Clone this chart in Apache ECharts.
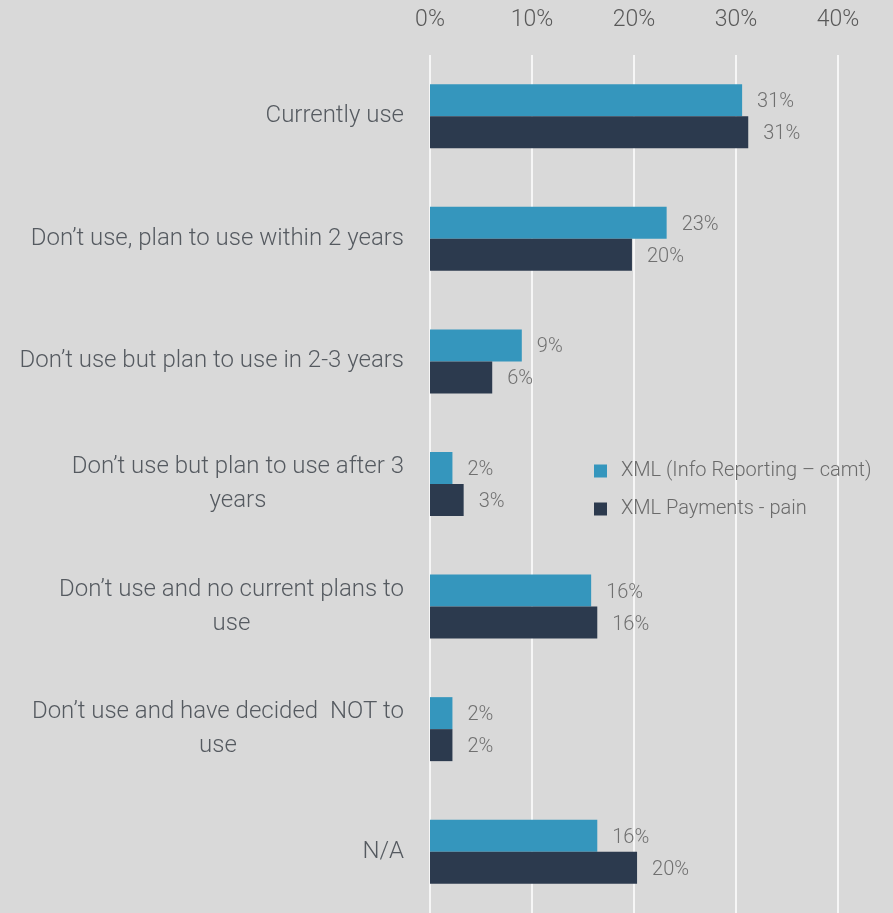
<!DOCTYPE html>
<html>
<head>
<meta charset="utf-8">
<script src="https://cdn.jsdelivr.net/npm/echarts@6/dist/echarts.min.js"></script>
<style>
  html, body { margin: 0; padding: 0; background: #d9d9d9; }
  #chart { width: 893px; height: 913px; }
</style>
</head>
<body>
<div id="chart"></div>
<script>
// Adoption status categories (top to bottom)
const categories = [
  'Currently use',
  'Don\u2019t use, plan to use within 2 years',
  'Don\u2019t use but plan to use in 2-3 years',
  'Don\u2019t use but plan to use after 3\nyears',
  'Don\u2019t use and no current plans to\nuse',
  'Don\u2019t use and have decided  NOT to\nuse',
  'N/A'
];
// Share of respondents, percent
const camtValues = [30.6, 23.2, 9.0, 2.2, 15.8, 2.2, 16.4];
const painValues = [31.2, 19.8, 6.1, 3.3, 16.4, 2.2, 20.3];
const seriesNames = ['XML (Info Reporting \u2013 camt)', 'XML Payments - pain'];
const axisTicks = [0, 10, 20, 30, 40];

const font = 'Roboto';
const chart = echarts.init(document.getElementById('chart'));

const valueLabel = {
  show: true,
  position: 'right',
  distance: 15,
  offset: [0, 2],
  color: '#707070',
  fontFamily: font,
  fontWeight: 300,
  fontSize: 20,
  formatter: p => Math.round(p.value) + '%'
};

chart.setOption({
  backgroundColor: '#d9d9d9',
  animation: false,
  legend: {
    orient: 'vertical',
    left: 589,
    top: 456,
    itemWidth: 13,
    itemHeight: 13,
    itemGap: 18,
    icon: 'rect',
    textStyle: { fontFamily: font, fontWeight: 300, fontSize: 20, color: '#6a6a6a', padding: [0, 0, 0, 9] },
    data: seriesNames
  },
  grid: { left: 430, top: 55, width: 408, height: 868, containLabel: false },
  xAxis: {
    type: 'value',
    position: 'top',
    min: axisTicks[0],
    max: axisTicks[axisTicks.length - 1],
    interval: 10,
    axisLine: { show: false },
    axisTick: { show: false },
    splitLine: { show: true, lineStyle: { color: '#ffffff', width: 1.5 } },
    axisLabel: {
      margin: 23,
      color: '#595959',
      fontFamily: font,
      fontWeight: 300,
      fontSize: 23,
      formatter: v => v + '%'
    }
  },
  yAxis: {
    type: 'category',
    inverse: true,
    data: categories,
    axisLine: { show: false },
    axisTick: { show: false },
    axisLabel: {
      margin: 26,
      align: 'right',
      formatter: v => v.split('\n').map(s => '{t|' + s + '}').join('\n'),
      rich: {
        t: {
          align: 'center',
          color: '#555a60',
          fontFamily: font,
          fontWeight: 300,
          fontSize: 24,
          lineHeight: 34
        }
      }
    }
  },
  series: [
    {
      name: seriesNames[0],
      type: 'bar',
      data: camtValues,
      barWidth: 32,
      barGap: '0%',
      itemStyle: { color: '#3596bd' },
      label: valueLabel
    },
    {
      name: seriesNames[1],
      type: 'bar',
      data: painValues,
      barWidth: 32,
      barGap: '0%',
      itemStyle: { color: '#2c3a4e' },
      label: valueLabel
    }
  ]
});
</script>
</body>
</html>
